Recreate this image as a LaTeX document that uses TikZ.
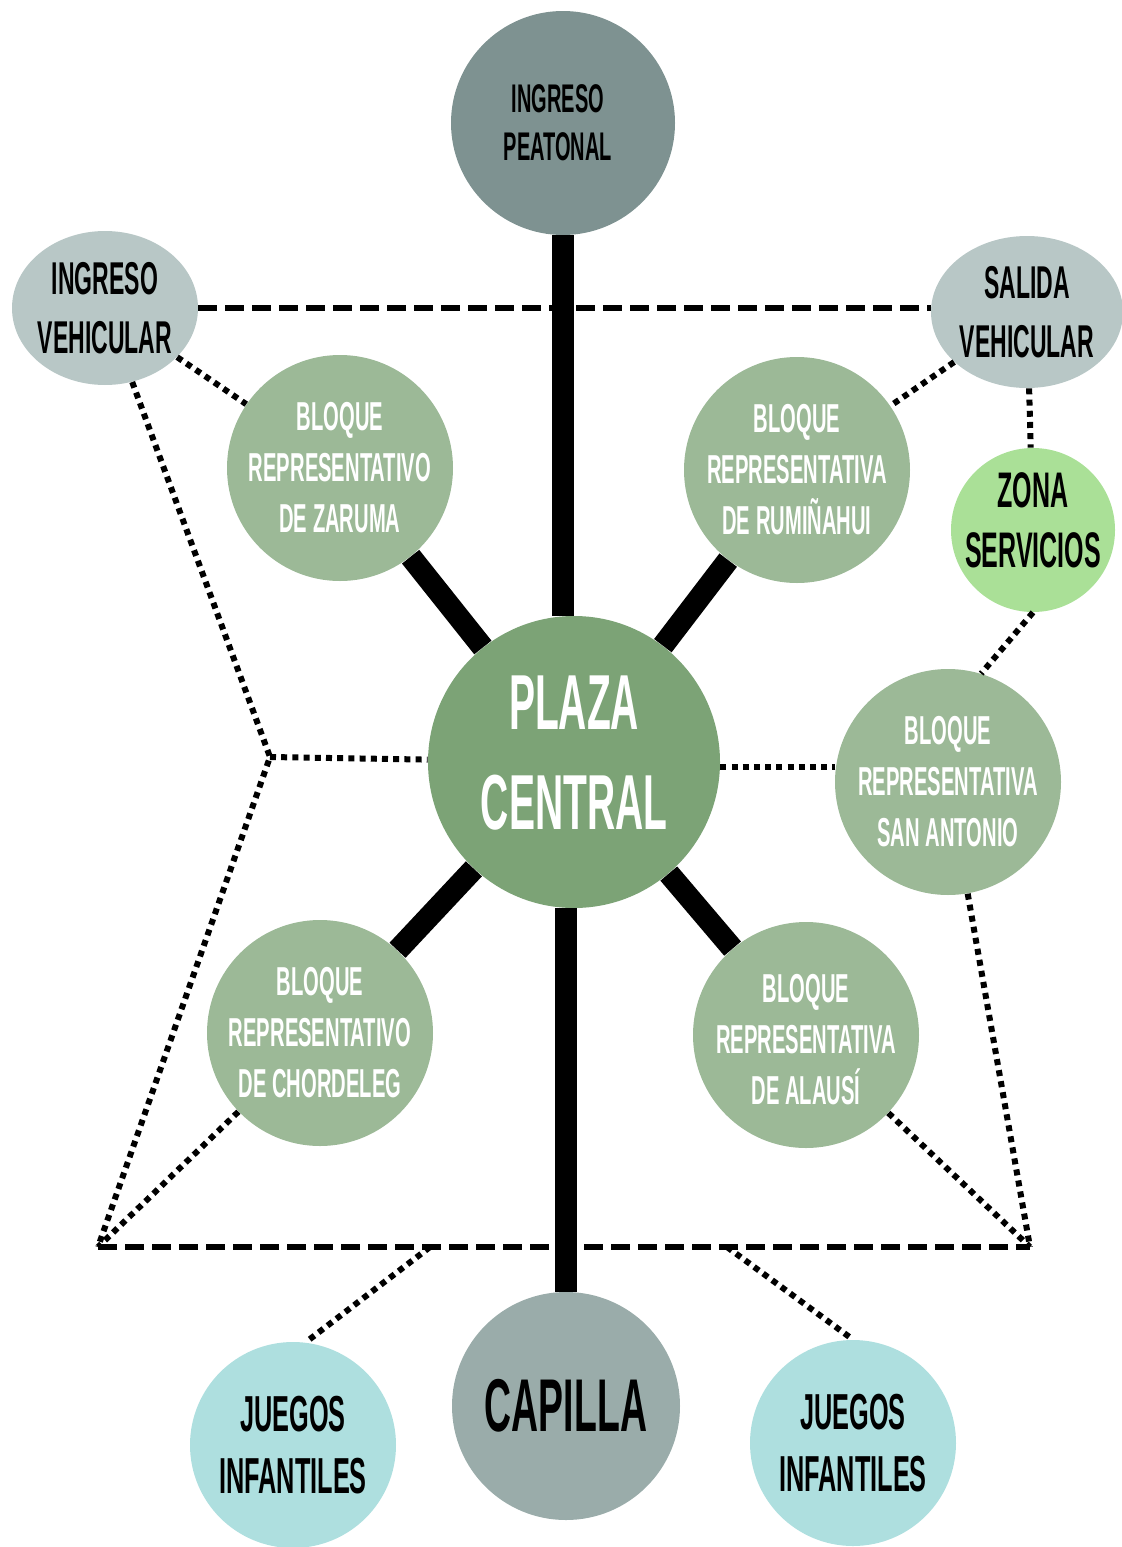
\documentclass[tikz,border=0pt]{standalone}
\usepackage{fontspec}
\newfontfamily\condfont{Liberation Sans}[FakeStretch=0.5]
\usepackage{tikz}
\usetikzlibrary{shapes.geometric}

\definecolor{peatgray}{RGB}{126,146,145}
\definecolor{vehgray}{RGB}{184,199,198}
\definecolor{bloquegreen}{RGB}{156,185,151}
\definecolor{plazagreen}{RGB}{124,163,118}
\definecolor{servgreen}{RGB}{170,224,151}
\definecolor{capgray}{RGB}{154,172,170}
\definecolor{juegoblue}{RGB}{174,223,223}

\begin{document}
\begin{tikzpicture}[
  x=0.5pt, y=-0.5pt,
  spot/.style={circle, inner sep=0pt, minimum size=#1},
  oval/.style={ellipse, inner sep=0pt, minimum width=93pt, minimum height=77pt, fill=vehgray},
  bloque/.style={spot=113pt, fill=bloquegreen},
  txt/.style 2 args={font=\condfont\bfseries\fontsize{#1}{#2}\selectfont, align=center},
  wtxt/.style={txt={20.2}{25.5}, text=white},
  link/.style={line width=11pt},
  road/.style={line width=3pt, dash pattern=on 9.5pt off 4pt},
  walk/.style={line width=3pt, dash pattern=on 3pt off 2.6pt}
]
\useasboundingbox (0,0) rectangle (1122,1547);

% accesos
\node[spot=112pt, fill=peatgray, label={[txt={20}{24}, xshift=-2.5pt]center:INGRESO\\PEATONAL}] (peatonal) at (563,123) {};
\node[oval, label={[txt={23}{29.5}]center:INGRESO\\VEHICULAR}] (ingveh) at (105,308) {};
\node[oval, minimum width=96pt, minimum height=76pt, label={[txt={23}{29.5}]center:SALIDA\\VEHICULAR}] (salida) at (1027,312) {};

% bloques
\node[bloque, label={[wtxt]center:BLOQUE\\REPRESENTATIVO\\DE ZARUMA}] (zaruma) at (340,468) {};
\node[bloque, label={[wtxt]center:BLOQUE\\REPRESENTATIVA\\DE RUMIÑAHUI}] (rumi) at (797,470) {};
\node[spot=82pt, fill=servgreen, label={[txt={25}{30}, yshift=5pt]center:ZONA\\SERVICIOS}] (servicios) at (1033,530) {};
\node[spot=146pt, fill=plazagreen, label={[txt={39}{50}, text=white, yshift=4.5pt]center:PLAZA\\CENTRAL}] (plaza) at (574,762) {};
\node[bloque, label={[wtxt]center:BLOQUE\\REPRESENTATIVA\\SAN ANTONIO}] (santonio) at (948,782) {};
\node[bloque, label={[wtxt]center:BLOQUE\\REPRESENTATIVO\\DE CHORDELEG}] (chordeleg) at (320,1033) {};
\node[bloque, label={[wtxt, yshift=-2.5pt]center:BLOQUE\\REPRESENTATIVA\\DE ALAUSÍ}] (alausi) at (806,1035) {};

% abajo
\node[spot=114pt, fill=capgray, label={[txt={37.4}{40}]center:CAPILLA}] (capilla) at (566,1406) {};
\node[spot=103pt, fill=juegoblue, label={[txt={25.3}{31}]center:JUEGOS\\INFANTILES}] (juegosl) at (293,1445) {};
\node[spot=103pt, fill=juegoblue, label={[txt={25.3}{31}]center:JUEGOS\\INFANTILES}] (juegosr) at (853,1443) {};

\coordinate (kink) at (270,757);
\coordinate (bl) at (98,1247);
\coordinate (br) at (1030,1247);
\coordinate (jl) at (430,1247);
\coordinate (jr) at (727,1247);

% circulacion vehicular
\draw[road] (ingveh.east) -- (ingveh.east -| salida.west);
\draw[road] (bl) -- (br);

% circulacion peatonal
\draw[walk] (ingveh) -- (kink) -- (bl);
\draw[walk] (kink) -- (plaza);
\draw[walk] (ingveh) -- (zaruma);
\draw[walk] (salida) -- (rumi);
\draw[walk] (salida) -- (servicios);
\draw[walk] (servicios.south) -- (santonio.73);
\draw[walk] (plaza.-2) -- (plaza.-2 -| santonio.west);
\draw[walk] (santonio) -- (br);
\draw[walk] (alausi) -- (br);
\draw[walk] (chordeleg) -- (bl);
\draw[walk] (jl) -- (juegosl.83);
\draw[walk] (jr) -- (juegosr.north);

% ejes principales
\draw[link] (peatonal.south) -- (peatonal.south |- plaza.north);
\draw[link] (capilla.north) -- (capilla.north |- plaza.south);
\draw[link] (zaruma) -- (plaza);
\draw[link] (rumi) -- (plaza);
\draw[link] (chordeleg) -- (plaza);
\draw[link] (alausi) -- (plaza);
\end{tikzpicture}
\end{document}
